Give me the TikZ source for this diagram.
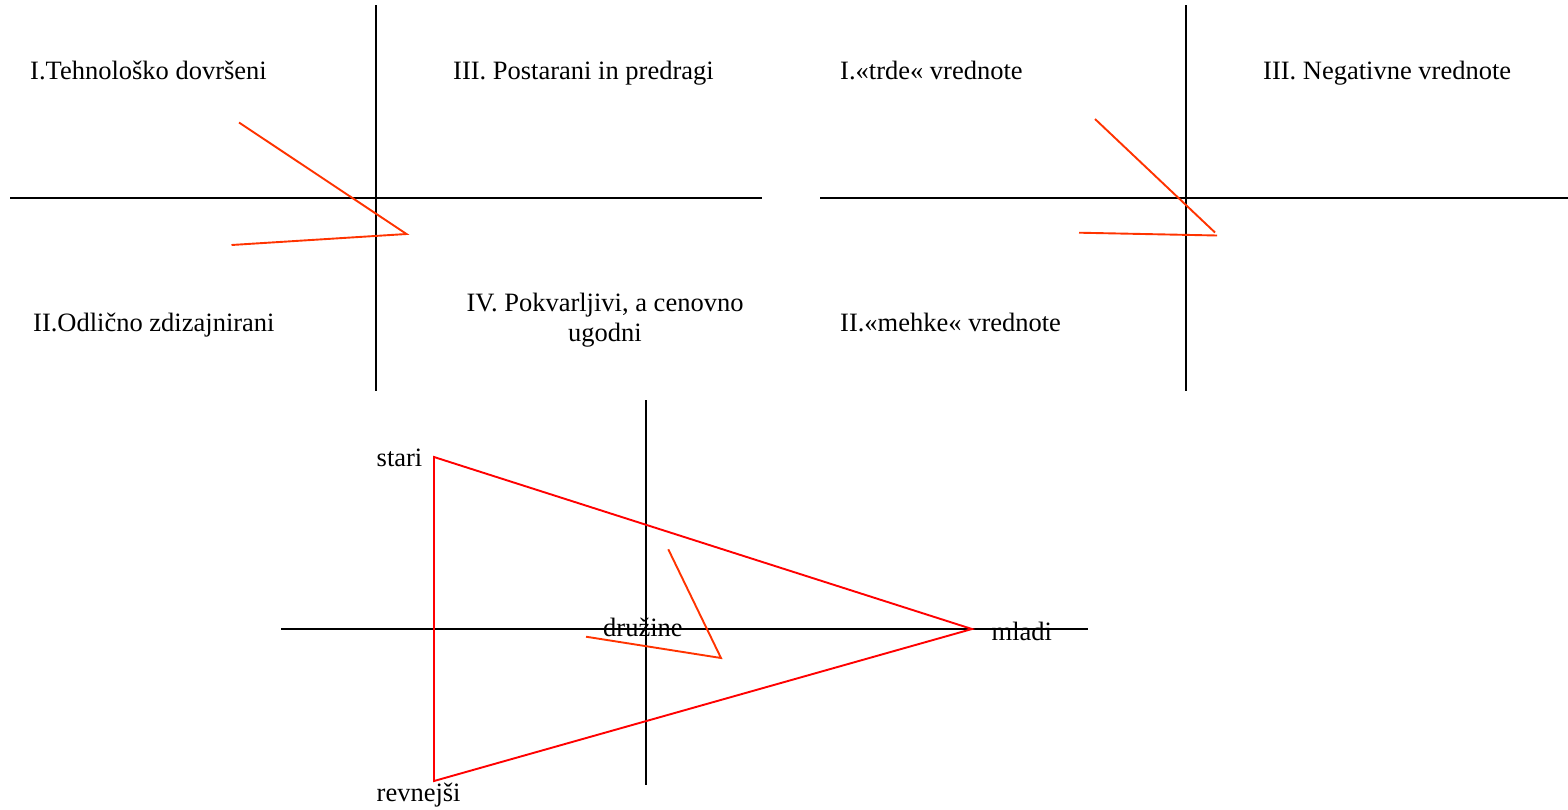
\documentclass[tikz,border=0pt]{standalone}
\usepackage{fontspec}
\setmainfont{Liberation Serif}
\begin{document}
\begin{tikzpicture}[x=1pt,y=-1pt,
  axis/.style={draw=black,line width=1.9pt},
  tri/.style={draw=red,line width=1.9pt,line join=miter},
  trend/.style={draw={rgb,255:red,255;green,51;blue,0},line width=1.9pt,line join=miter},
  lbl/.style={inner sep=0pt,anchor=base west,font=\fontsize{26.5}{30}\selectfont},
  lblc/.style={inner sep=0pt,anchor=base,font=\fontsize{26.5}{30}\selectfont,align=center}]
\useasboundingbox (0,0) rectangle (1568,809);
% ---- top-left panel
\coordinate (A1t) at (376,5);
\coordinate (A1b) at (376,391);
\coordinate (A1l) at (10,198);
\coordinate (A1r) at (762,198);
\draw[axis] (A1t) -- (A1b);
\draw[axis] (A1l) -- (A1r);
\coordinate (R1a) at (239,122.5);
\coordinate (R1b) at (406.5,234);
\coordinate (R1c) at (231.5,245);
\draw[trend] (R1a) -- (R1b) -- (R1c);
\node[lbl] (t1) at (30,79.5) {I.Tehnološko dovršeni};
\node[lbl] (t3) at (453,79.5) {III. Postarani in predragi};
\node[lbl] (t2) at (33,331.7) {II.Odlično zdizajnirani};
\node[lblc] (t4) at (605,341.7) {IV. Pokvarljivi, a cenovno\\ugodni};
% ---- top-right panel
\coordinate (A2t) at (1186,5);
\coordinate (A2b) at (1186,391);
\coordinate (A2l) at (820,198);
\coordinate (A2r) at (1568,198);
\draw[axis] (A2t) -- (A2b);
\draw[axis] (A2l) -- (A2r);
\coordinate (R2a) at (1095,119);
\coordinate (R2b) at (1215,232.5);
\coordinate (R2c) at (1217,235.5);
\coordinate (R2d) at (1079,232.7);
\draw[trend] (R2a) -- (R2b);
\draw[trend] (R2c) -- (R2d);
\node[lbl] (u1) at (840,79.5) {I.«trde« vrednote};
\node[lbl] (u3) at (1263,79.5) {III. Negativne vrednote};
\node[lbl] (u2) at (840,331.7) {II.«mehke« vrednote};
% ---- bottom panel
\coordinate (A3t) at (646,400);
\coordinate (A3b) at (646,785);
\coordinate (A3l) at (281,629);
\coordinate (A3r) at (1088,629);
\draw[axis] (A3t) -- (A3b);
\draw[axis] (A3l) -- (A3r);
\coordinate (S) at (434,457);
\coordinate (M) at (972,629);
\coordinate (V) at (434,781);
\draw[tri] (S) -- (M) -- (V) -- cycle;
\coordinate (R3a) at (668.3,549.3);
\coordinate (R3b) at (721,658);
\coordinate (R3c) at (586,636.7);
\draw[trend] (R3a) -- (R3b) -- (R3c);
\node[lbl] (stari) at (376.5,466) {stari};
\node[lbl] (revn) at (376.5,801.5) {revnejši};
\node[lbl] (mladi) at (991.5,640) {mladi};
\node[lbl] (druz) at (603,636.5) {družine};
\end{tikzpicture}
\end{document}
